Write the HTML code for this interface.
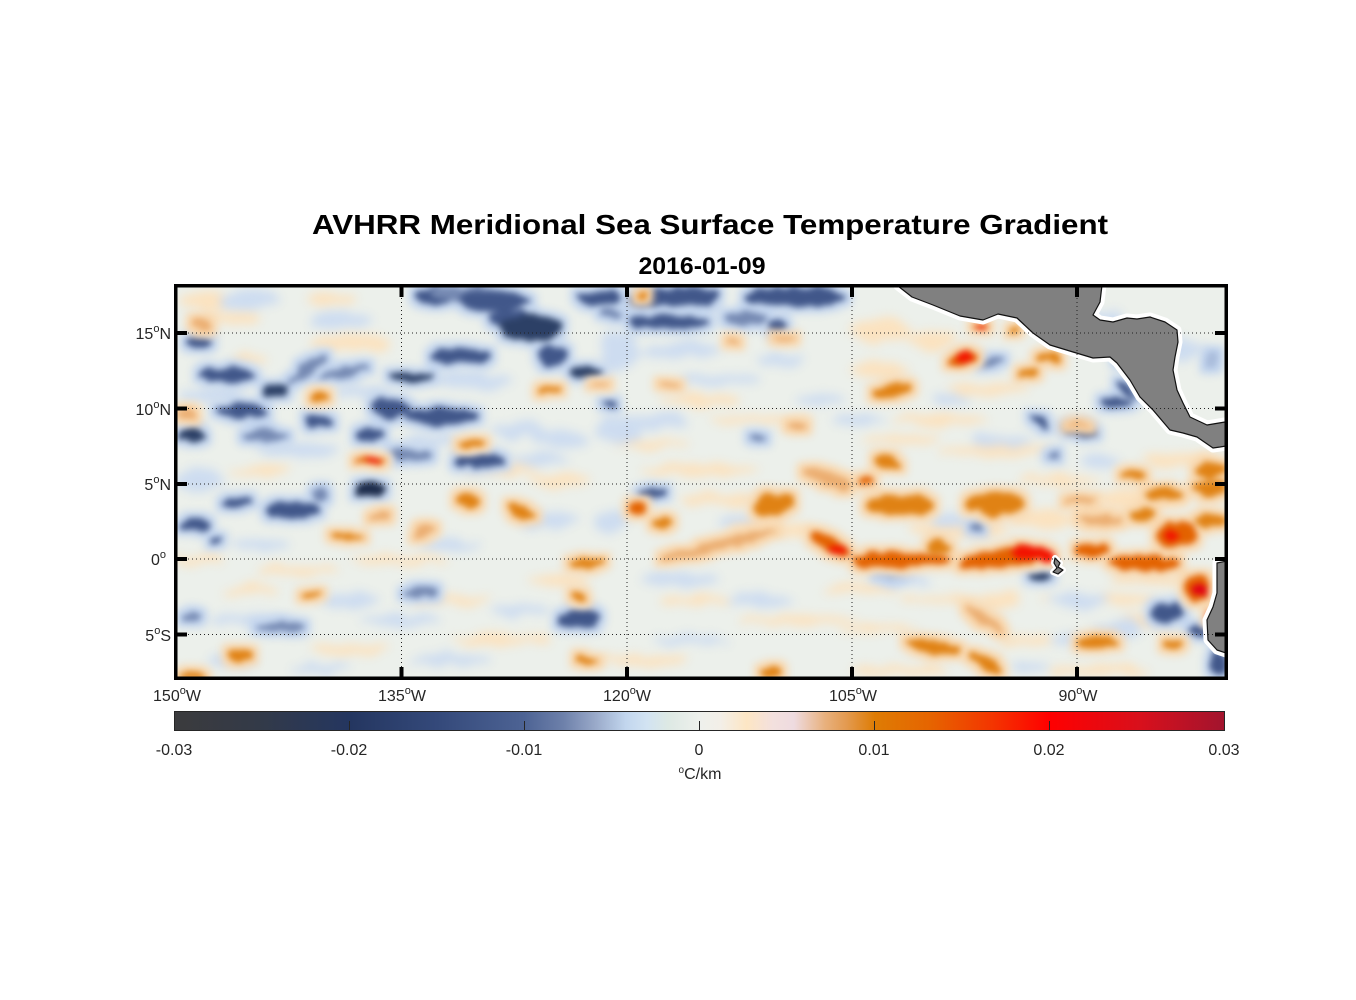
<!DOCTYPE html>
<html><head><meta charset="utf-8"><style>
html,body{margin:0;padding:0;background:#fff;}
svg{display:block;}
text{font-family:"Liberation Sans",Arial,sans-serif;}
.b1{fill:#2c4066}.b2{fill:#41578a}.b3{fill:#7589b2}.b4{fill:#a9bcdb}.b0{fill:#1e2d4c}
.o1{fill:#f31200}.o2{fill:#e36200}.o3{fill:#e08214}.o4{fill:#ebad70}
.cr{fill:#fbe2bf}.lb{fill:#cddcf0}
.tl{font-size:16px;fill:#262626}
</style></head><body>
<svg width="1356" height="1000" viewBox="0 0 1356 1000" xmlns="http://www.w3.org/2000/svg">
<defs>
<clipPath id="plot"><rect x="176" y="286" width="1050" height="392"/></clipPath>
<filter id="pale" filterUnits="userSpaceOnUse" x="100" y="230" width="1200" height="500" color-interpolation-filters="sRGB">
<feTurbulence type="fractalNoise" baseFrequency="0.05" numOctaves="2" seed="7" result="n"/>
<feDisplacementMap in="SourceGraphic" in2="n" scale="14" xChannelSelector="R" yChannelSelector="G" result="s"/>
<feGaussianBlur in="s" stdDeviation="5"/>
</filter>
<filter id="bf" filterUnits="userSpaceOnUse" x="100" y="230" width="1200" height="500" color-interpolation-filters="sRGB">
<feTurbulence type="fractalNoise" baseFrequency="0.07" numOctaves="2" seed="3" result="n"/>
<feDisplacementMap in="SourceGraphic" in2="n" scale="10" xChannelSelector="R" yChannelSelector="G" result="s"/>
<feMorphology in="s" operator="dilate" radius="6" result="d"/>
<feFlood flood-color="#c3d5ee" flood-opacity="1"/>
<feComposite in2="d" operator="in" result="h"/>
<feGaussianBlur in="h" stdDeviation="4" result="hb"/>
<feGaussianBlur in="s" stdDeviation="3.2" result="sb"/>
<feMerge><feMergeNode in="hb"/><feMergeNode in="sb"/></feMerge>
</filter>
<filter id="of" filterUnits="userSpaceOnUse" x="100" y="230" width="1200" height="500" color-interpolation-filters="sRGB">
<feTurbulence type="fractalNoise" baseFrequency="0.07" numOctaves="2" seed="11" result="n"/>
<feDisplacementMap in="SourceGraphic" in2="n" scale="10" xChannelSelector="R" yChannelSelector="G" result="s"/>
<feMorphology in="s" operator="dilate" radius="6" result="d"/>
<feFlood flood-color="#f8d8b0" flood-opacity="1"/>
<feComposite in2="d" operator="in" result="h"/>
<feGaussianBlur in="h" stdDeviation="4" result="hb"/>
<feGaussianBlur in="s" stdDeviation="3.2" result="sb"/>
<feMerge><feMergeNode in="hb"/><feMergeNode in="sb"/></feMerge>
</filter>
<linearGradient id="cb" x1="0" y1="0" x2="1" y2="0">
<stop offset="0" stop-color="#3b3b3d"/>
<stop offset="0.08" stop-color="#333a48"/>
<stop offset="0.167" stop-color="#243660"/>
<stop offset="0.25" stop-color="#34497a"/>
<stop offset="0.333" stop-color="#4d6394"/>
<stop offset="0.37" stop-color="#6d80aa"/>
<stop offset="0.40" stop-color="#98a8c8"/>
<stop offset="0.43" stop-color="#c2d6ee"/>
<stop offset="0.45" stop-color="#d2e3f2"/>
<stop offset="0.47" stop-color="#dde9e4"/>
<stop offset="0.5" stop-color="#eef0ec"/>
<stop offset="0.52" stop-color="#f3efe8"/>
<stop offset="0.545" stop-color="#fde6c4"/>
<stop offset="0.57" stop-color="#f3e0de"/>
<stop offset="0.59" stop-color="#eedbe0"/>
<stop offset="0.62" stop-color="#e8b07c"/>
<stop offset="0.64" stop-color="#e39a50"/>
<stop offset="0.667" stop-color="#de7c04"/>
<stop offset="0.72" stop-color="#e66400"/>
<stop offset="0.78" stop-color="#f43400"/>
<stop offset="0.833" stop-color="#ff0000"/>
<stop offset="0.92" stop-color="#d8101c"/>
<stop offset="1" stop-color="#a2142e"/>
</linearGradient>
</defs>

<!-- Titles -->
<text x="710" y="234" text-anchor="middle" font-size="28" font-weight="bold" fill="#000" textLength="796" lengthAdjust="spacingAndGlyphs">AVHRR Meridional Sea Surface Temperature Gradient</text>
<text x="702" y="274" text-anchor="middle" font-size="24" font-weight="bold" fill="#000" textLength="127" lengthAdjust="spacingAndGlyphs">2016-01-09</text>

<g clip-path="url(#plot)">
<rect x="176" y="286" width="1050" height="392" fill="#ecf0eb"/>
<!-- pale patches -->
<g filter="url(#pale)">
<ellipse class="cr" cx="205" cy="300" rx="25" ry="10"/><ellipse class="cr" cx="230" cy="318" rx="30" ry="7"/>
<ellipse class="cr" cx="330" cy="300" rx="25" ry="6"/><ellipse class="cr" cx="350" cy="343" rx="40" ry="9"/>
<ellipse class="cr" cx="250" cy="360" rx="20" ry="5"/><ellipse class="cr" cx="700" cy="400" rx="40" ry="6"/>
<ellipse class="cr" cx="760" cy="420" rx="50" ry="5"/><ellipse class="cr" cx="650" cy="445" rx="40" ry="5"/>
<ellipse class="cr" cx="700" cy="470" rx="60" ry="6"/><ellipse class="cr" cx="940" cy="420" rx="50" ry="5"/>
<ellipse class="cr" cx="1000" cy="450" rx="60" ry="6"/><ellipse class="cr" cx="900" cy="440" rx="40" ry="5"/>
<ellipse class="cr" cx="880" cy="330" rx="30" ry="12"/><ellipse class="cr" cx="930" cy="340" rx="25" ry="10"/>
<ellipse class="cr" cx="860" cy="590" rx="40" ry="5"/><ellipse class="cr" cx="950" cy="600" rx="50" ry="5"/>
<ellipse class="cr" cx="1100" cy="600" rx="60" ry="6"/><ellipse class="cr" cx="1150" cy="580" rx="40" ry="6"/>
<ellipse class="cr" cx="700" cy="600" rx="40" ry="5"/><ellipse class="cr" cx="800" cy="620" rx="60" ry="5"/>
<ellipse class="cr" cx="900" cy="670" rx="50" ry="5"/><ellipse class="cr" cx="1100" cy="670" rx="50" ry="6"/>
<ellipse class="cr" cx="400" cy="560" rx="50" ry="5"/><ellipse class="cr" cx="300" cy="570" rx="40" ry="5"/>
<ellipse class="cr" cx="450" cy="600" rx="40" ry="5"/><ellipse class="cr" cx="350" cy="650" rx="40" ry="5"/>
<ellipse class="cr" cx="500" cy="640" rx="50" ry="5"/><ellipse class="cr" cx="250" cy="590" rx="30" ry="5"/>
<ellipse class="cr" cx="500" cy="470" rx="40" ry="5"/><ellipse class="cr" cx="560" cy="480" rx="30" ry="6"/>
<ellipse class="cr" cx="260" cy="470" rx="30" ry="5"/><ellipse class="cr" cx="200" cy="560" rx="25" ry="5"/>
<ellipse class="cr" cx="1000" cy="600" rx="20" ry="10"/><ellipse class="cr" cx="1060" cy="480" rx="40" ry="6"/>
<ellipse class="cr" cx="1100" cy="520" rx="30" ry="6"/><ellipse class="cr" cx="1180" cy="460" rx="40" ry="8"/>
<ellipse class="cr" cx="1150" cy="620" rx="30" ry="6"/><ellipse class="cr" cx="640" cy="660" rx="50" ry="6"/>
<ellipse class="cr" cx="780" cy="530" rx="50" ry="8"/><ellipse class="cr" cx="960" cy="530" rx="50" ry="8"/>
<ellipse class="cr" cx="1140" cy="500" rx="50" ry="10"/><ellipse class="cr" cx="1040" cy="520" rx="30" ry="8"/>
<ellipse class="cr" cx="880" cy="370" rx="30" ry="8"/><ellipse class="cr" cx="990" cy="390" rx="40" ry="6"/>
<ellipse class="cr" cx="720" cy="500" rx="40" ry="6"/><ellipse class="cr" cx="560" cy="580" rx="30" ry="5"/>
<ellipse class="cr" cx="880" cy="630" rx="40" ry="5"/><ellipse class="cr" cx="1030" cy="640" rx="30" ry="6"/>
<ellipse class="lb" cx="250" cy="300" rx="30" ry="8"/><ellipse class="lb" cx="340" cy="320" rx="30" ry="8"/>
<ellipse class="lb" cx="210" cy="395" rx="30" ry="8"/><ellipse class="lb" cx="360" cy="392" rx="25" ry="6"/>
<ellipse class="lb" cx="470" cy="380" rx="40" ry="8"/><ellipse class="lb" cx="560" cy="440" rx="30" ry="8"/>
<ellipse class="lb" cx="620" cy="430" rx="25" ry="15"/><ellipse class="lb" cx="620" cy="350" rx="20" ry="20"/>
<ellipse class="lb" cx="680" cy="350" rx="40" ry="8"/><ellipse class="lb" cx="720" cy="380" rx="40" ry="6"/>
<ellipse class="lb" cx="660" cy="420" rx="30" ry="6"/><ellipse class="lb" cx="780" cy="360" rx="25" ry="8"/>
<ellipse class="lb" cx="820" cy="400" rx="25" ry="6"/><ellipse class="lb" cx="860" cy="420" rx="25" ry="5"/>
<ellipse class="lb" cx="200" cy="480" rx="25" ry="10"/><ellipse class="lb" cx="260" cy="545" rx="30" ry="6"/>
<ellipse class="lb" cx="450" cy="545" rx="30" ry="6"/><ellipse class="lb" cx="550" cy="520" rx="30" ry="8"/>
<ellipse class="lb" cx="400" cy="620" rx="40" ry="6"/><ellipse class="lb" cx="520" cy="610" rx="30" ry="6"/>
<ellipse class="lb" cx="450" cy="660" rx="40" ry="6"/><ellipse class="lb" cx="680" cy="580" rx="40" ry="6"/>
<ellipse class="lb" cx="760" cy="600" rx="30" ry="5"/><ellipse class="lb" cx="900" cy="580" rx="30" ry="5"/>
<ellipse class="lb" cx="1080" cy="600" rx="30" ry="8"/><ellipse class="lb" cx="1120" cy="630" rx="25" ry="10"/>
<ellipse class="lb" cx="1000" cy="440" rx="30" ry="5"/><ellipse class="lb" cx="1100" cy="460" rx="20" ry="5"/>
<ellipse class="lb" cx="950" cy="400" rx="20" ry="5"/><ellipse class="lb" cx="1100" cy="320" rx="25" ry="10"/>
<ellipse class="lb" cx="1180" cy="350" rx="20" ry="12"/><ellipse class="lb" cx="230" cy="660" rx="25" ry="5"/>
<ellipse class="lb" cx="320" cy="668" rx="30" ry="4"/><ellipse class="lb" cx="950" cy="520" rx="20" ry="6"/>
<ellipse class="lb" cx="610" cy="520" rx="15" ry="10"/><ellipse class="lb" cx="1070" cy="640" rx="20" ry="6"/>
<ellipse class="lb" cx="1030" cy="667" rx="20" ry="5"/>
<ellipse class="lb" cx="300" cy="450" rx="40" ry="8"/><ellipse class="lb" cx="430" cy="440" rx="30" ry="6"/>
<ellipse class="lb" cx="520" cy="430" rx="30" ry="8"/><ellipse class="lb" cx="540" cy="460" rx="30" ry="6"/>
<ellipse class="lb" cx="250" cy="620" rx="40" ry="6"/><ellipse class="lb" cx="350" cy="600" rx="30" ry="6"/>
<ellipse class="lb" cx="690" cy="640" rx="40" ry="5"/><ellipse class="lb" cx="740" cy="520" rx="20" ry="6"/>
</g>

<!-- blue blobs -->
<g filter="url(#bf)">
<ellipse class="b2" cx="435" cy="296" rx="20" ry="8"/><ellipse class="b3" cx="470" cy="294" rx="40" ry="7"/>
<ellipse class="b2" cx="494" cy="301" rx="36" ry="10"/>
<ellipse class="b2" cx="510" cy="318" rx="22" ry="8"/><ellipse class="b1" cx="530" cy="328" rx="30" ry="14"/>
<ellipse class="b2" cx="552" cy="355" rx="16" ry="10"/>
<ellipse class="b2" cx="600" cy="298" rx="22" ry="7"/>
<ellipse class="b1" cx="586" cy="373" rx="17" ry="6"/>
<ellipse class="b2" cx="461" cy="356" rx="30" ry="8"/>
<ellipse class="b1" cx="411" cy="377" rx="22" ry="5"/>
<ellipse class="b2" cx="199" cy="343" rx="13" ry="5"/>
<ellipse class="b2" cx="228" cy="375" rx="28" ry="7"/>
<ellipse class="b1" cx="276" cy="391" rx="13" ry="7"/>
<ellipse class="b3" cx="307" cy="370" rx="24" ry="5" transform="rotate(-35 307 370)"/>
<ellipse class="b3" cx="345" cy="372" rx="25" ry="4" transform="rotate(-10 345 372)"/>
<ellipse class="b2" cx="389" cy="408" rx="20" ry="9"/><ellipse class="b2" cx="440" cy="416" rx="36" ry="9"/>
<ellipse class="b2" cx="241" cy="411" rx="26" ry="7"/>
<ellipse class="b2" cx="318" cy="421" rx="15" ry="7"/>
<ellipse class="b1" cx="191" cy="435" rx="13" ry="7"/>
<ellipse class="b3" cx="266" cy="435" rx="22" ry="6"/>
<ellipse class="b2" cx="370" cy="435" rx="13" ry="7"/>
<ellipse class="b2" cx="480" cy="461" rx="26" ry="7"/>
<ellipse class="b3" cx="411" cy="455" rx="22" ry="6"/>
<ellipse class="b2" cx="238" cy="502" rx="15" ry="4"/>
<ellipse class="b2" cx="292" cy="510" rx="27" ry="8"/>
<ellipse class="b0" cx="370" cy="490" rx="17" ry="7"/>
<ellipse class="b2" cx="194" cy="525" rx="16" ry="7"/>
<ellipse class="b2" cx="216" cy="541" rx="7" ry="4"/>
<ellipse class="b3" cx="320" cy="495" rx="7" ry="6"/>
<ellipse class="b2" cx="611" cy="405" rx="8" ry="3"/>
<ellipse class="b3" cx="640" cy="300" rx="12" ry="8"/><ellipse class="b2" cx="680" cy="297" rx="38" ry="10"/>
<ellipse class="b2" cx="670" cy="322" rx="40" ry="7"/>
<ellipse class="b2" cx="795" cy="297" rx="50" ry="10"/><ellipse class="b2" cx="777" cy="325" rx="10" ry="7"/>
<ellipse class="b3" cx="745" cy="318" rx="22" ry="6"/>
<ellipse class="b3" cx="610" cy="313" rx="10" ry="5"/>
<ellipse class="b3" cx="991" cy="362" rx="12" ry="4" transform="rotate(-15 991 362)"/>
<ellipse class="b2" cx="1040" cy="422" rx="12" ry="4" transform="rotate(35 1040 422)"/>
<ellipse class="b2" cx="653" cy="492" rx="13" ry="5"/>
<ellipse class="b3" cx="758" cy="438" rx="8" ry="3"/>
<ellipse class="b2" cx="1128" cy="390" rx="12" ry="4" transform="rotate(40 1128 390)"/>
<ellipse class="b2" cx="1116" cy="403" rx="16" ry="5"/>
<ellipse class="b2" cx="1080" cy="430" rx="18" ry="5" transform="rotate(10 1080 430)"/>
<ellipse class="b3" cx="1053" cy="456" rx="7" ry="3"/>
<ellipse class="b1" cx="1041" cy="577" rx="11" ry="5"/>
<ellipse class="b3" cx="976" cy="528" rx="6" ry="5"/>
<ellipse class="b2" cx="1168" cy="612" rx="16" ry="9"/>
<ellipse class="b2" cx="1198" cy="632" rx="11" ry="5"/>
<ellipse class="b2" cx="1218" cy="664" rx="9" ry="12"/>
<ellipse class="b2" cx="580" cy="619" rx="22" ry="9"/>
<ellipse class="b3" cx="422" cy="592" rx="17" ry="5"/>
<ellipse class="b3" cx="281" cy="627" rx="25" ry="5"/>
<ellipse class="b3" cx="193" cy="618" rx="10" ry="5"/>
<ellipse class="b4" cx="1213" cy="360" rx="6" ry="8"/>
<ellipse class="b4" cx="890" cy="577" rx="14" ry="3"/>
<ellipse class="b4" cx="1120" cy="360" rx="6" ry="4"/>
</g>

<!-- orange blobs -->
<g filter="url(#of)">
<ellipse class="o2" cx="371" cy="461" rx="15" ry="4"/>
<ellipse class="o3" cx="319" cy="398" rx="10" ry="4"/>
<ellipse class="o3" cx="472" cy="443" rx="14" ry="4"/>
<ellipse class="o3" cx="551" cy="391" rx="12" ry="4"/>
<ellipse class="o4" cx="599" cy="384" rx="10" ry="3"/>
<ellipse class="o4" cx="187" cy="413" rx="9" ry="6"/>
<ellipse class="o4" cx="202" cy="325" rx="10" ry="4" transform="rotate(30 202 325)"/>
<ellipse class="o3" cx="467" cy="501" rx="12" ry="6"/>
<ellipse class="o3" cx="522" cy="512" rx="13" ry="7" transform="rotate(20 522 512)"/>
<ellipse class="o4" cx="381" cy="517" rx="12" ry="4" transform="rotate(-20 381 517)"/>
<ellipse class="o3" cx="349" cy="536" rx="18" ry="3"/>
<ellipse class="o4" cx="424" cy="530" rx="12" ry="5" transform="rotate(-25 424 530)"/>
<ellipse class="o3" cx="587" cy="563" rx="19" ry="5"/>
<ellipse class="o3" cx="580" cy="597" rx="7" ry="4"/>
<ellipse class="o3" cx="312" cy="595" rx="12" ry="3"/>
<ellipse class="o3" cx="239" cy="655" rx="13" ry="6" transform="rotate(15 239 655)"/>
<ellipse class="o3" cx="192" cy="676" rx="14" ry="4"/>
<ellipse class="o3" cx="586" cy="660" rx="12" ry="3"/>
<ellipse class="o3" cx="642" cy="296" rx="5" ry="4"/>
<ellipse class="o2" cx="962" cy="360" rx="15" ry="7" transform="rotate(-15 962 360)"/>
<ellipse class="o3" cx="892" cy="391" rx="20" ry="6" transform="rotate(-10 892 391)"/>
<ellipse class="o2" cx="981" cy="327" rx="8" ry="3"/>
<ellipse class="o3" cx="1015" cy="331" rx="5" ry="4"/>
<ellipse class="o3" cx="1028" cy="373" rx="9" ry="5" transform="rotate(-20 1028 373)"/>
<ellipse class="o3" cx="1042" cy="357" rx="8" ry="5"/>
<ellipse class="o4" cx="732" cy="341" rx="6" ry="3"/><ellipse class="o4" cx="783" cy="338" rx="10" ry="3"/>
<ellipse class="o4" cx="670" cy="385" rx="10" ry="3"/><ellipse class="o4" cx="797" cy="427" rx="10" ry="4"/>
<ellipse class="o3" cx="887" cy="461" rx="14" ry="6" transform="rotate(20 887 461)"/>
<ellipse class="o4" cx="826" cy="478" rx="26" ry="7" transform="rotate(20 826 478)"/>
<ellipse class="o2" cx="865" cy="481" rx="8" ry="4"/>
<ellipse class="o2" cx="637" cy="508" rx="10" ry="7"/>
<ellipse class="o3" cx="662" cy="523" rx="9" ry="5"/>
<ellipse class="o3" cx="773" cy="505" rx="20" ry="10" transform="rotate(-15 773 505)"/>
<ellipse class="o4" cx="720" cy="545" rx="60" ry="5" transform="rotate(-14 720 545)"/>
<ellipse class="o2" cx="830" cy="545" rx="22" ry="7" transform="rotate(30 830 545)"/>
<ellipse class="o2" cx="900" cy="560" rx="50" ry="8"/>
<ellipse class="o3" cx="940" cy="547" rx="12" ry="6"/>
<ellipse class="o3" cx="900" cy="505" rx="35" ry="10"/>
<ellipse class="o3" cx="995" cy="503" rx="28" ry="12"/>
<ellipse class="o2" cx="1005" cy="557" rx="45" ry="10" transform="rotate(-8 1005 557)"/>
<ellipse class="o4" cx="985" cy="620" rx="22" ry="5" transform="rotate(35 985 620)"/>
<ellipse class="o3" cx="935" cy="647" rx="28" ry="6" transform="rotate(8 935 647)"/>
<ellipse class="o3" cx="985" cy="663" rx="18" ry="7" transform="rotate(30 985 663)"/>
<ellipse class="o3" cx="770" cy="672" rx="10" ry="6"/>
<ellipse class="o3" cx="1165" cy="494" rx="18" ry="6"/>
<ellipse class="o2" cx="1093" cy="550" rx="18" ry="6"/>
<ellipse class="o2" cx="1145" cy="563" rx="36" ry="8"/>
<ellipse class="o2" cx="1175" cy="535" rx="20" ry="12"/>
<ellipse class="o2" cx="1197" cy="588" rx="14" ry="12"/>
<ellipse class="o3" cx="1097" cy="643" rx="20" ry="7"/>
<ellipse class="o3" cx="1173" cy="645" rx="10" ry="5"/>
<ellipse class="o3" cx="1210" cy="488" rx="16" ry="8"/>
<ellipse class="o3" cx="1133" cy="475" rx="13" ry="5"/>
<ellipse class="o3" cx="1143" cy="515" rx="13" ry="7"/>
<ellipse class="o3" cx="1209" cy="520" rx="16" ry="6"/>
<ellipse class="o3" cx="1210" cy="470" rx="16" ry="8"/>
<ellipse class="o3" cx="1055" cy="358" rx="6" ry="4"/>
<ellipse class="o4" cx="1078" cy="425" rx="12" ry="3"/>
<ellipse class="o4" cx="1100" cy="520" rx="20" ry="5"/>
<ellipse class="o4" cx="1080" cy="500" rx="15" ry="4"/>
<!-- red cores -->
<ellipse class="o1" cx="372" cy="461" rx="8" ry="3"/>
<ellipse class="o1" cx="964" cy="359" rx="9" ry="5" transform="rotate(-15 964 359)"/>
<ellipse class="o1" cx="836" cy="550" rx="10" ry="4" transform="rotate(20 836 550)"/>
<ellipse class="o1" cx="1030" cy="552" rx="20" ry="6"/>
<ellipse class="o1" cx="1048" cy="556" rx="7" ry="7"/>
<ellipse class="o1" cx="1172" cy="536" rx="9" ry="6"/>
<ellipse class="o1" cx="1201" cy="590" rx="8" ry="6" style="fill:#e00016"/>
<ellipse class="o1" cx="1210" cy="616" rx="3" ry="4"/>
<ellipse class="o1" cx="981" cy="327" rx="5" ry="2"/>
</g>

<!-- land -->
<g stroke-linejoin="round">
<polygon points="896,280 898,286 912,297 933,305 960,316 983,320 998,314 1017,318 1033,333 1050,345 1073,352 1093,358 1110,357 1117,363 1130,380 1140,397 1153,410 1170,430 1183,433 1197,437 1213,448 1220,447 1232,445 1232,420 1225,422 1207,425 1190,417 1183,403 1177,390 1173,370 1175,357 1178,342 1177,330 1165,322 1150,317 1137,319 1127,318 1113,322 1100,320 1093,315 1100,302 1102,285 1102,280" fill="#fff" stroke="#fff" stroke-width="9"/>
<polygon points="1232,560 1217,563 1217,593 1213,607 1207,620 1208,640 1217,650 1232,655" fill="#fff" stroke="#fff" stroke-width="9"/>
<polygon points="1055,558 1060,563 1058,567 1063,570 1058,574 1053,572 1057,568 1054,563" fill="#fff" stroke="#fff" stroke-width="6"/>
<polygon points="896,280 898,286 912,297 933,305 960,316 983,320 998,314 1017,318 1033,333 1050,345 1073,352 1093,358 1110,357 1117,363 1130,380 1140,397 1153,410 1170,430 1183,433 1197,437 1213,448 1220,447 1232,445 1232,420 1225,422 1207,425 1190,417 1183,403 1177,390 1173,370 1175,357 1178,342 1177,330 1165,322 1150,317 1137,319 1127,318 1113,322 1100,320 1093,315 1100,302 1102,285 1102,280" fill="#808080" stroke="#111" stroke-width="1.2"/>
<polygon points="1232,560 1217,563 1217,593 1213,607 1207,620 1208,640 1217,650 1232,655" fill="#808080" stroke="#111" stroke-width="1.2"/>
<polygon points="1055,558 1060,563 1058,567 1063,570 1058,574 1053,572 1057,568 1054,563" fill="#808080" stroke="#111" stroke-width="1.2"/>
</g>

<!-- grid -->
<g stroke="#222" stroke-width="1" stroke-dasharray="1 3">
<line x1="176" y1="333" x2="1226" y2="333"/>
<line x1="176" y1="408.5" x2="1226" y2="408.5"/>
<line x1="176" y1="484" x2="1226" y2="484"/>
<line x1="176" y1="559" x2="1226" y2="559"/>
<line x1="176" y1="634.5" x2="1226" y2="634.5"/>
<line x1="401.5" y1="286" x2="401.5" y2="678"/>
<line x1="627" y1="286" x2="627" y2="678"/>
<line x1="852" y1="286" x2="852" y2="678"/>
<line x1="1077" y1="286" x2="1077" y2="678"/>
</g>
</g>

<!-- frame -->
<rect x="175.75" y="285.75" width="1050.5" height="392.5" fill="none" stroke="#000" stroke-width="3.5"/>
<!-- ticks -->
<g stroke="#000" stroke-width="4">
<line x1="176" y1="333" x2="187" y2="333"/><line x1="176" y1="408.5" x2="187" y2="408.5"/>
<line x1="176" y1="484" x2="187" y2="484"/><line x1="176" y1="559" x2="187" y2="559"/>
<line x1="176" y1="634.5" x2="187" y2="634.5"/>
<line x1="1215" y1="333" x2="1226" y2="333"/><line x1="1215" y1="408.5" x2="1226" y2="408.5"/>
<line x1="1215" y1="484" x2="1226" y2="484"/><line x1="1215" y1="559" x2="1226" y2="559"/>
<line x1="1215" y1="634.5" x2="1226" y2="634.5"/>
<line x1="401.5" y1="286" x2="401.5" y2="297"/><line x1="627" y1="286" x2="627" y2="297"/>
<line x1="852" y1="286" x2="852" y2="297"/><line x1="1077" y1="286" x2="1077" y2="297"/>
<line x1="401.5" y1="667" x2="401.5" y2="678"/><line x1="627" y1="667" x2="627" y2="678"/>
<line x1="852" y1="667" x2="852" y2="678"/><line x1="1077" y1="667" x2="1077" y2="678"/>
</g>

<!-- y labels -->
<g text-anchor="end">
<text class="tl" x="171" y="339">15<tspan font-size="11" dy="-7">o</tspan><tspan dy="7">N</tspan></text>
<text class="tl" x="171" y="415">10<tspan font-size="11" dy="-7">o</tspan><tspan dy="7">N</tspan></text>
<text class="tl" x="171" y="490">5<tspan font-size="11" dy="-7">o</tspan><tspan dy="7">N</tspan></text>
<text class="tl" x="166" y="565">0<tspan font-size="11" dy="-7">o</tspan></text>
<text class="tl" x="171" y="641">5<tspan font-size="11" dy="-7">o</tspan><tspan dy="7">S</tspan></text>
</g>
<!-- x labels -->
<g text-anchor="middle">
<text class="tl" x="177" y="701">150<tspan font-size="11" dy="-7">o</tspan><tspan dy="7">W</tspan></text>
<text class="tl" x="402" y="701">135<tspan font-size="11" dy="-7">o</tspan><tspan dy="7">W</tspan></text>
<text class="tl" x="627" y="701">120<tspan font-size="11" dy="-7">o</tspan><tspan dy="7">W</tspan></text>
<text class="tl" x="853" y="701">105<tspan font-size="11" dy="-7">o</tspan><tspan dy="7">W</tspan></text>
<text class="tl" x="1078" y="701">90<tspan font-size="11" dy="-7">o</tspan><tspan dy="7">W</tspan></text>
</g>

<!-- colorbar -->
<rect x="174.5" y="711.5" width="1050" height="19" fill="url(#cb)" stroke="#262626" stroke-width="1"/>
<g stroke="#262626" stroke-width="1">
<line x1="349.5" y1="721" x2="349.5" y2="730"/><line x1="524.5" y1="721" x2="524.5" y2="730"/>
<line x1="699.5" y1="721" x2="699.5" y2="730"/><line x1="874.5" y1="721" x2="874.5" y2="730"/>
<line x1="1049.5" y1="721" x2="1049.5" y2="730"/>
</g>
<g text-anchor="middle">
<text class="tl" x="174" y="755">-0.03</text>
<text class="tl" x="349" y="755">-0.02</text>
<text class="tl" x="524" y="755">-0.01</text>
<text class="tl" x="699" y="755">0</text>
<text class="tl" x="874" y="755">0.01</text>
<text class="tl" x="1049" y="755">0.02</text>
<text class="tl" x="1224" y="755">0.03</text>
<text class="tl" x="700" y="779" font-size="15"><tspan font-size="10" dy="-6">o</tspan><tspan dy="6">C/km</tspan></text>
</g>
</svg>
</body></html>
